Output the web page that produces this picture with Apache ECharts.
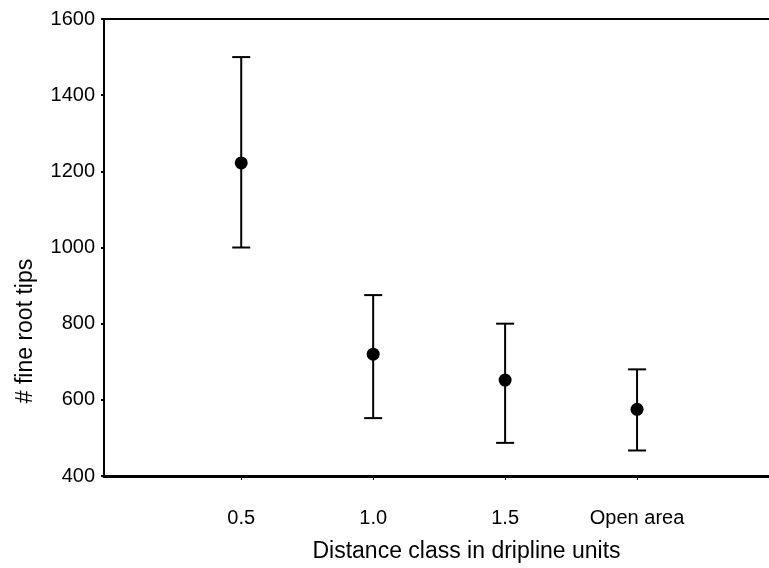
<!DOCTYPE html>
<html>
<head>
  <meta charset="UTF-8">
  <title>fine root tips</title>
  <style>
    html, body { margin: 0; padding: 0; width: 100%; height: 100%; background: #fff; }
  </style>
  <script src="https://cdn.jsdelivr.net/npm/echarts@6/dist/echarts.min.js"></script>
</head>
<body>
<div id="main" style="width: 769px; height: 568px;"></div>
<script>
  // distance classes (x position in dripline units) and their labels
  var classPos = [0.5, 1.0, 1.5, 2.0];
  var classLabels = ['0.5', '1.0', '1.5', 'Open area'];
  // mean number of fine root tips, with error bar ends
  var means = [1222, 720, 652, 575];
  var upper = [1500, 875, 800, 680];
  var lower = [1000, 552, 487, 467];
  var yTicks = [400, 600, 800, 1000, 1200, 1400, 1600];

  var font = 'Liberation Sans, Arial, sans-serif';

  var chart = echarts.init(document.getElementById('main'));

  var barData = classPos.map(function (x, i) { return [x, lower[i], upper[i]]; });
  var dotData = classPos.map(function (x, i) { return [x, means[i]]; });

  function renderBar(params, api) {
    var x = api.value(0);
    var lo = api.coord([x, api.value(1)]);
    var hi = api.coord([x, api.value(2)]);
    var half = 9;
    var st = { stroke: '#000', lineWidth: 2 };
    return {
      type: 'group',
      children: [
        { type: 'line', shape: { x1: lo[0], y1: lo[1], x2: hi[0], y2: hi[1] }, style: st },
        { type: 'line', shape: { x1: hi[0] - half, y1: hi[1], x2: hi[0] + half, y2: hi[1] }, style: st },
        { type: 'line', shape: { x1: lo[0] - half, y1: lo[1], x2: lo[0] + half, y2: lo[1] }, style: st }
      ]
    };
  }

  var option = {
    animation: false,
    backgroundColor: '#fff',
    grid: { left: 104, right: 0, top: 19, bottom: 92, outerBoundsMode: 'none' },
    xAxis: [
      {
        type: 'value',
        min: -0.02,
        max: 2.5,
        name: 'Distance class in dripline units',
        nameLocation: 'middle',
        nameGap: 64,
        // name sits a bit right of the plot centre in the original
        nameTextStyle: { color: '#000', fontSize: 23, fontFamily: font, padding: [0, 0, 0, 60] },
        axisLine: { show: true, onZero: false, lineStyle: { color: '#000', width: 3 } },
        axisTick: { show: true, length: 4, customValues: classPos, lineStyle: { color: '#000', width: 1 } },
        axisLabel: {
          color: '#000', fontSize: 20, fontFamily: font, margin: 32,
          customValues: classPos,
          formatter: function (v) {
            var i = classPos.indexOf(v);
            return i >= 0 ? classLabels[i] : '';
          }
        },
        splitLine: { show: false }
      },
      {
        type: 'value',
        position: 'top',
        min: -0.02,
        max: 2.5,
        axisLine: { show: true, onZero: false, lineStyle: { color: '#000', width: 2 } },
        axisTick: { show: false },
        axisLabel: { show: false },
        splitLine: { show: false }
      }
    ],
    yAxis: {
      type: 'value',
      min: 400,
      max: 1600,
      axisLine: { show: true, onZero: false, lineStyle: { color: '#000', width: 2 } },
      axisTick: { show: true, length: 3, customValues: yTicks, lineStyle: { color: '#000', width: 2 } },
      axisLabel: {
        color: '#000', fontSize: 20, fontFamily: font, margin: 9,
        customValues: yTicks,
        formatter: function (v) { return String(v); }
      },
      splitLine: { show: false }
    },
    graphic: [
      {
        type: 'text',
        x: 26,
        y: 331,
        rotation: Math.PI / 2,
        style: {
          text: '# fine root tips',
          fill: '#000',
          font: '23px ' + font,
          textAlign: 'center',
          textVerticalAlign: 'middle'
        }
      }
    ],
    series: [
      {
        type: 'custom',
        renderItem: renderBar,
        data: barData,
        encode: { x: 0, y: [1, 2] },
        z: 2
      },
      {
        type: 'scatter',
        data: dotData,
        symbol: 'circle',
        symbolSize: 13,
        itemStyle: { color: '#000', opacity: 1 },
        z: 3
      }
    ]
  };

  chart.setOption(option);
</script>
</body>
</html>
